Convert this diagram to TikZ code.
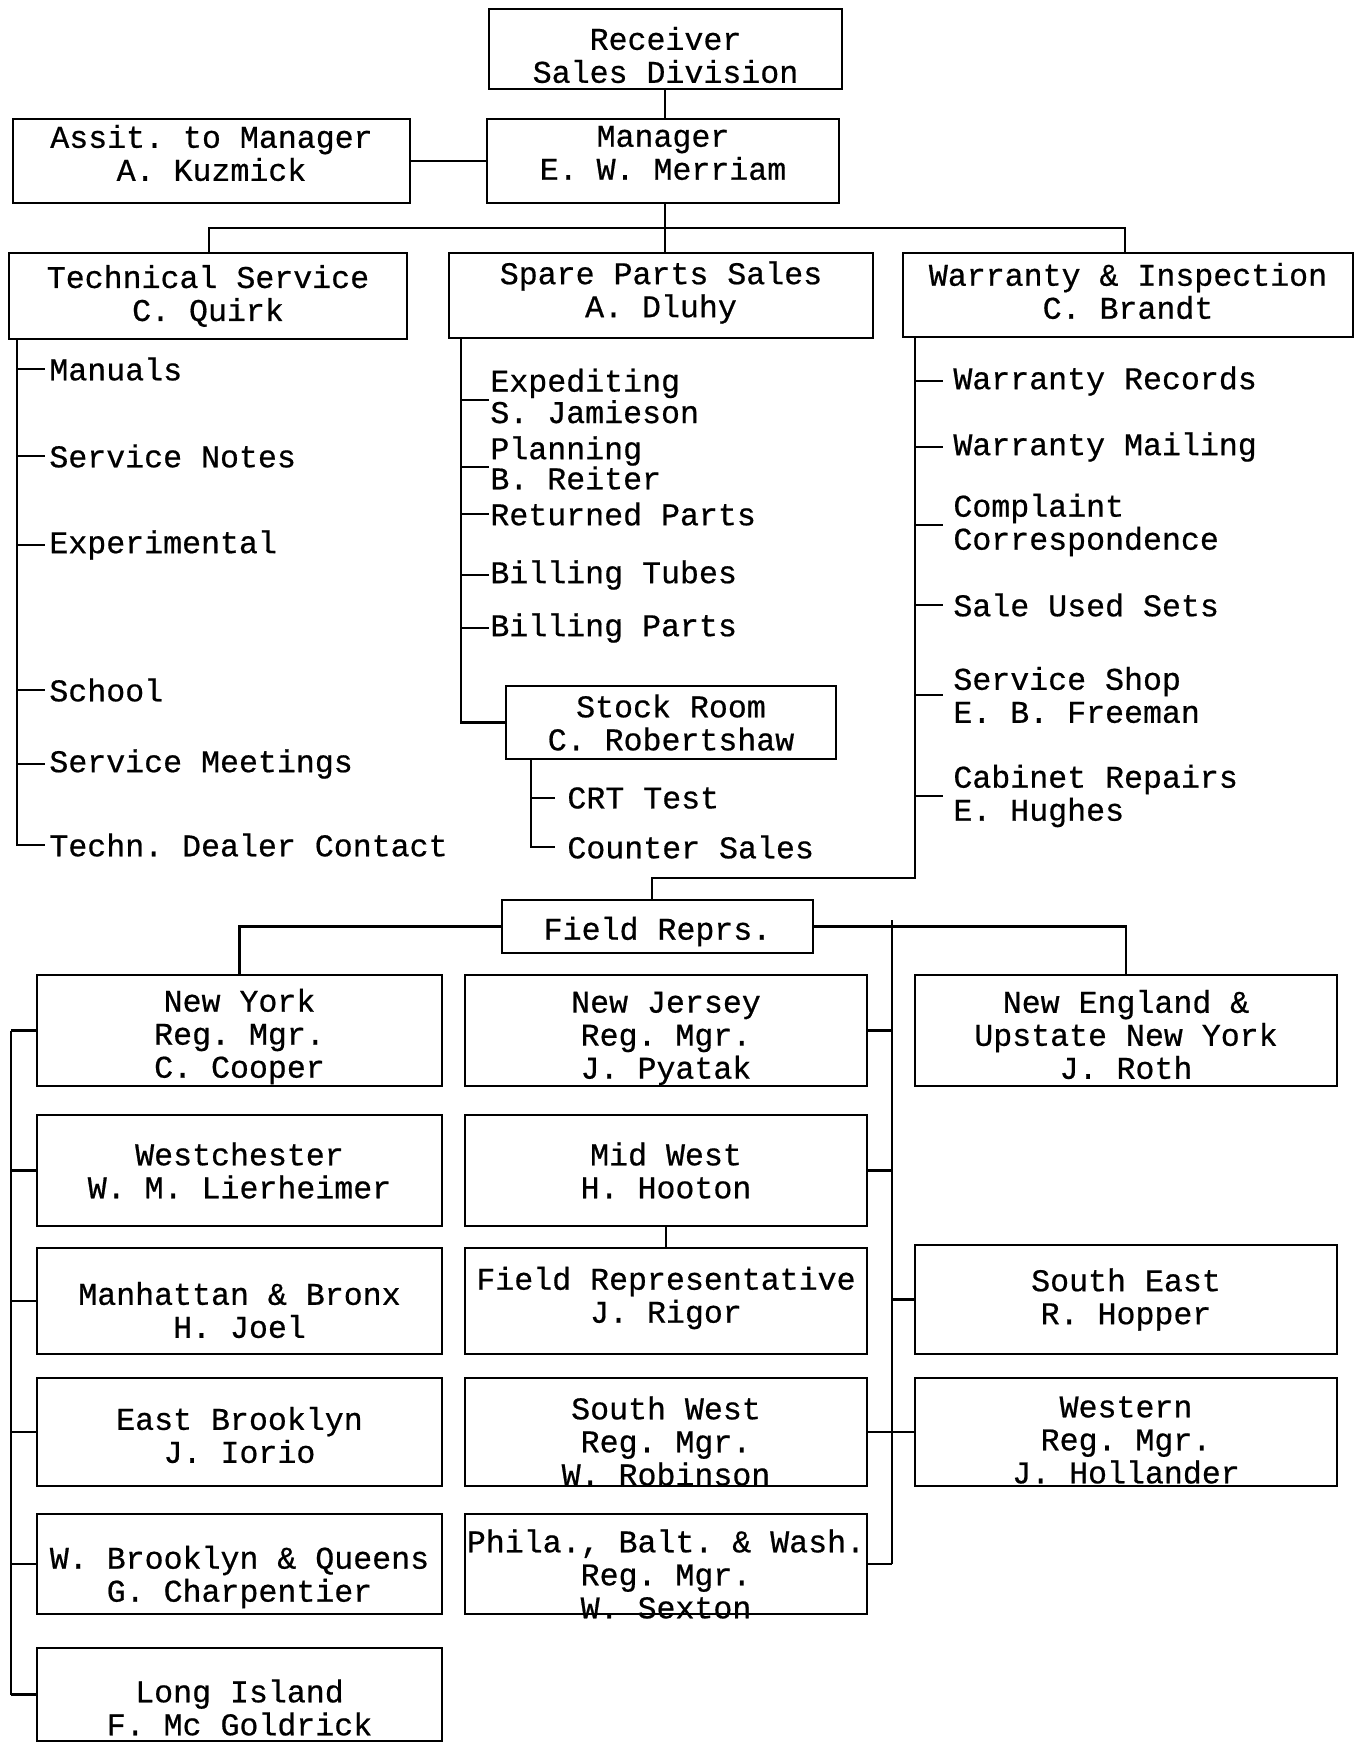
\documentclass[tikz,border=0pt]{standalone}
\usepackage{fontspec}
\setmonofont{Liberation Mono}[FakeBold=0.6]
% an organisational unit: framed box plus its (slightly offset) typed label
% #1 name, #2 x, #3 y, #4 width, #5 height, #6 label offset downwards, #7 text
\newcommand{\orgunit}[7]{%
  \node[unit={#4}{#5}] (#1) at (#2,#3) {};
  \node[unittext] (#1-t) at (#2,#3+#6) {#7};}
\begin{document}
\begin{tikzpicture}[x=0.5pt,y=-0.5pt,
  every node/.style={font=\ttfamily\fontsize{15.8}{16.5}\selectfont, text=black},
  unit/.style 2 args={draw, line width=1.4pt, inner sep=0pt,
    minimum width=#1*0.5pt, minimum height=#2*0.5pt},
  unittext/.style={inner sep=0pt, align=center},
  item/.style={anchor=west, inner sep=0pt, align=left},
  link/.style={line width=1.3pt}]
\useasboundingbox[fill=white] (0,0) rectangle (1354,1743);

% ---- top management ----
\orgunit{recv}{665.5}{49}{353}{80}{6}{Receiver\\Sales Division}
\orgunit{mgr}{663}{161}{352}{84}{-8}{Manager\\E. W. Merriam}
\orgunit{asst}{211.5}{161}{397}{84}{-8}{Assit. to Manager\\A. Kuzmick}

% ---- departments ----
\orgunit{tech}{208}{296}{398}{86}{0}{Technical Service\\C. Quirk}
\orgunit{spare}{661}{295.5}{424}{85}{-3}{Spare Parts Sales\\A. Dluhy}
\orgunit{warr}{1128}{295}{450}{84}{-4}{Warranty \& Inspection\\C. Brandt}

\draw[link] (recv.south -| 665,0) -- (mgr.north -| 665,0);
\draw[link] (asst.east) -- (mgr.west);
\coordinate (bar) at (665,228);
\draw[link] (mgr.south -| bar) -- (spare.north -| bar);
\draw[link] (tech.north -| 209,0) |- (bar) -| (warr.north -| 1125,0);

% ---- technical service list ----
\node[item] (tman) at (49,369) {Manuals};
\node[item] (tsn)  at (49,456) {Service Notes};
\node[item] (texp) at (49,545) {Experimental};
\node[item] (tsch) at (49,690) {School};
\node[item] (tsm)  at (49,764) {Service Meetings};
\node[item] (tdc)  at (49,845) {Techn. Dealer Contact};
\coordinate (ttop) at (17,339);
\draw[link] (ttop) |- ([xshift=-2pt]tdc.west);
\foreach \n in {tman,tsn,texp,tsch,tsm}
  \draw[link] (\n.west -| ttop) -- ([xshift=-2pt]\n.west);

% ---- spare parts list ----
\node[item, font=\ttfamily\fontsize{15.8}{14.5}\selectfont] (sexp) at (490,396) {Expediting\\S. Jamieson};
\node[item] (spl)  at (490,451) {Planning};
\node[item] (splb) at (490,478) {B. Reiter};
\node[item] (sret) at (490,514) {Returned Parts};
\node[item] (sbt)  at (490,575) {Billing Tubes};
\node[item] (sbp)  at (490,628) {Billing Parts};
\orgunit{stock}{671}{722.5}{330}{73}{0}{Stock Room\\C. Robertshaw}
\coordinate (stop) at (461,338);
\draw[link] (stop) |- (stock.west);
\foreach \n in {sret,sbt,sbp}
  \draw[link] (\n.west -| stop) -- ([xshift=-0.5pt]\n.west);
\draw[link] ([yshift=-2pt]sexp.west -| stop) -- ([xshift=-0.5pt,yshift=-2pt]sexp.west);
\draw[link] ([yshift=-8pt]spl.west -| stop) -- ([xshift=-0.5pt,yshift=-8pt]spl.west);

\node[item] (crt) at (567,798) {CRT Test};
\node[item] (ctr) at (567,847) {Counter Sales};
\coordinate (ktop) at (531,759);
\draw[link] (ktop) |- ([xshift=-6pt]ctr.west);
\draw[link] (crt.west -| ktop) -- ([xshift=-6pt]crt.west);

% ---- warranty list ----
\node[item] (wrec)  at (953,381) {Warranty Records};
\node[item] (wmail) at (953,447) {Warranty Mailing};
\node[item] (wcomp) at (953,525) {Complaint\\Correspondence};
\node[item] (wused) at (953,605) {Sale Used Sets};
\node[item] (wshop) at (953,695) {Service Shop\\E. B. Freeman};
\node[item] (wcab)  at (953,796) {Cabinet Repairs\\E. Hughes};
\coordinate (wtop) at (915,337);
\foreach \n in {wrec,wmail,wcomp,wused,wshop,wcab}
  \draw[link] (\n.west -| wtop) -- ([xshift=-5pt]\n.west);

% ---- field representatives ----
\orgunit{field}{657.5}{926.5}{311}{53}{5}{Field Reprs.}
\coordinate (fjoin) at (652,878);
\draw[link] (wtop) |- (fjoin) -- (fjoin |- field.north);

% left column
\orgunit{ny}{239.5}{1030.5}{405}{111}{6}{New York\\Reg. Mgr.\\C. Cooper}
\orgunit{wch}{239.5}{1170.5}{405}{111}{0}{Westchester\\W. M. Lierheimer}
\orgunit{man}{239.5}{1301}{405}{106}{9}{Manhattan \& Bronx\\H. Joel}
\orgunit{ebk}{239.5}{1432}{405}{108}{3}{East Brooklyn\\J. Iorio}
\orgunit{wbk}{239.5}{1564}{405}{100}{13}{W. Brooklyn \& Queens\\G. Charpentier}
\orgunit{li}{239.5}{1694.5}{405}{93}{13}{Long Island\\F. Mc Goldrick}

% middle column
\orgunit{nj}{666}{1030.5}{402}{111}{8}{New Jersey\\Reg. Mgr.\\J. Pyatak}
\orgunit{mw}{666}{1170.5}{402}{111}{0}{Mid West\\H. Hooton}
\orgunit{frep}{666}{1301}{402}{106}{-3}{Field Representative\\J. Rigor}
\orgunit{sw}{666}{1432}{402}{108}{9}{South West\\Reg. Mgr.\\W. Robinson}
\orgunit{pbw}{666}{1564}{402}{100}{10}{Phila., Balt. \& Wash.\\Reg. Mgr.\\W. Sexton}

% right column
\orgunit{ne}{1126}{1030.5}{422}{111}{4}{New England \&\\Upstate New York\\J. Roth}
\orgunit{se}{1126}{1299.5}{422}{109}{0}{South East\\R. Hopper}
\orgunit{west}{1126}{1432}{422}{108}{8}{Western\\Reg. Mgr.\\J. Hollander}

\draw[link] (field.west) -| (ny.north);
\draw[link] (field.east) -| (ne.north);
\draw[link] (mw.south) -- (frep.north);

% left trunk
\coordinate (ltr) at (11,0);
\draw[link] (ny.west -| ltr) -- (li.west -| ltr);
\foreach \n in {ny,wch,man,ebk,wbk,li}
  \draw[link] (\n.west -| ltr) -- (\n.west);

% middle trunk
\coordinate (mtr) at (892,920);
\draw[link] (mtr) -- (pbw.east -| mtr);
\foreach \n in {nj,mw,sw,pbw}
  \draw[link] (\n.east -| mtr) -- (\n.east);
\foreach \n in {se,west}
  \draw[link] (\n.west -| mtr) -- (\n.west);
\end{tikzpicture}
\end{document}
